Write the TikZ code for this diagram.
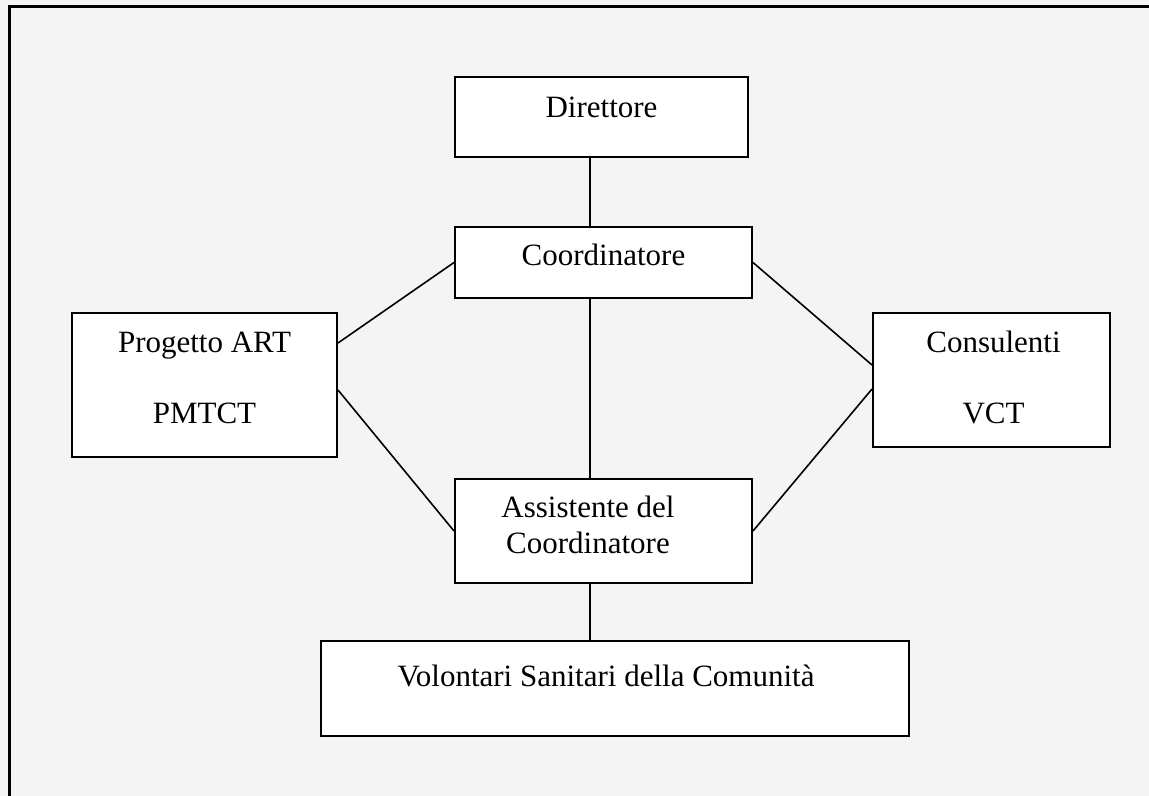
\documentclass[tikz,border=0pt]{standalone}
\usepackage{fontspec}
\setmainfont{Liberation Serif}
\definecolor{pagegray}{HTML}{F4F4F4}
\begin{document}
\begin{tikzpicture}[x=0.5pt,y=-0.5pt,
        box/.style={draw,fill=white,line width=1pt,inner sep=0pt},
        every label/.style={font=\fontsize{15.5}{17.75}\selectfont,align=center,inner sep=0pt},
        link/.style={line width=0.8pt}]
    \useasboundingbox (0,0) rectangle (1149,796);
    \fill[pagegray] (0,0) rectangle (1149,796);
    \draw[line width=1.5pt] (9.5,796) -- (9.5,6.5) -- (1149,6.5);
    \coordinate (axis) at (590,0);
    \node[box,minimum width=146.5pt,minimum height=40pt,label={[yshift=5pt]center:Direttore}] (dir) at (601.5,117) {};
    \node[box,minimum width=148.5pt,minimum height=35.5pt,label={[yshift=3.75pt]center:Coordinatore}] (coord) at (603.5,262.5) {};
    \node[box,minimum width=132.5pt,minimum height=72pt,label={[yshift=3.75pt]center:Progetto ART\\[17.75pt]PMTCT}] (prog) at (204.5,385) {};
    \node[box,minimum width=118.5pt,minimum height=67pt,label={[xshift=1pt,yshift=1.25pt]center:Consulenti\\[17.75pt]VCT}] (cons) at (991.5,380) {};
    \node[box,minimum width=148.5pt,minimum height=52pt,label={[xshift=-7.75pt,yshift=3pt]center:Assistente del\\Coordinatore}] (asst) at (603.5,531) {};
    \node[box,minimum width=294pt,minimum height=47.5pt,label={[xshift=-4.5pt,yshift=6.25pt]center:Volontari Sanitari della Comunità}] (vol) at (615,688.5) {};
    \draw[link] (dir.south -| axis) -- (coord.north -| axis);
    \draw[link] (coord.south -| axis) -- (asst.north -| axis);
    \draw[link] (asst.south -| axis) -- (vol.north -| axis);
    \draw[link] (coord.west) -- ([yshift=21pt]prog.east);
    \draw[link] ([yshift=-2.5pt]prog.east) -- (asst.west);
    \draw[link] (coord.east) -- ([yshift=7.5pt]cons.west);
    \draw[link] ([yshift=-4.5pt]cons.west) -- (asst.east);
\end{tikzpicture}
\end{document}
